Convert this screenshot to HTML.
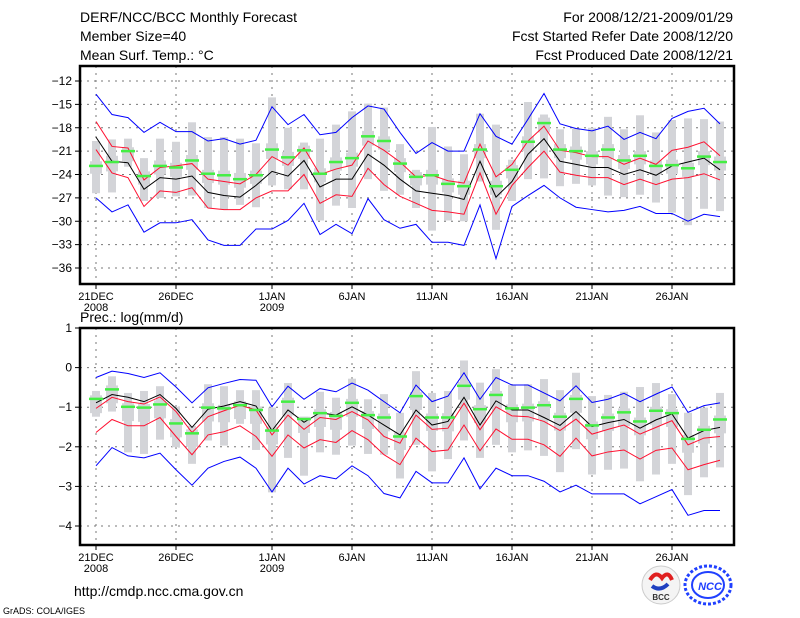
<!DOCTYPE html>
<html><head><meta charset="utf-8"><style>
body{margin:0;background:#fff;}
svg{display:block;font-family:"Liberation Sans",sans-serif;}
</style></head><body>
<svg id="chart" width="800" height="618" viewBox="0 0 800 618">
<text x="80" y="22" font-size="14">DERF/NCC/BCC Monthly Forecast</text>
<text x="80" y="41" font-size="14">Member Size=40</text>
<text x="80" y="60" font-size="14">Mean Surf. Temp.: °C</text>
<text x="733" y="22" font-size="14" text-anchor="end">For 2008/12/21-2009/01/29</text>
<text x="733" y="41" font-size="14" text-anchor="end">Fcst Started Refer Date 2008/12/20</text>
<text x="733" y="60" font-size="14" text-anchor="end">Fcst Produced Date 2008/12/21</text>
<text x="80" y="322" font-size="14">Prec.: log(mm/d)</text>
<text x="74" y="596" font-size="14">http://cmdp.ncc.cma.gov.cn</text>
<text x="3" y="614" font-size="9">GrADS: COLA/IGES</text>
<g>
<circle cx="661" cy="585" r="19" fill="#f4f4f4" stroke="#ccc"/>
<path d="M650 580 q6 -10 12 -2 q6 -8 10 2" stroke="#e02020" stroke-width="4" fill="none"/>
<path d="M652 586 q8 6 16 -2" stroke="#2040c0" stroke-width="4" fill="none"/>
<text x="661" y="600" font-size="8" font-weight="bold" text-anchor="middle" fill="#333">BCC</text>
</g>
<g>
<ellipse cx="708" cy="585" rx="23" ry="19" fill="none" stroke="#2040ff" stroke-width="3" stroke-dasharray="3 2"/>
<ellipse cx="708" cy="585" rx="16" ry="13" fill="none" stroke="#2040ff" stroke-width="2"/>
<text x="710" y="590" font-size="11" font-weight="bold" font-style="italic" text-anchor="middle" fill="#2040ff">NCC</text>
</g>
</svg>
<script>
// ---- Temperature panel data ----
const days = ['21DEC','26DEC','1JAN','6JAN','11JAN','16JAN','21JAN','26JAN'];
const dayIdx = [0,5,11,16,21,26,31,36];
const tTicks = [-12,-15,-18,-21,-24,-27,-30,-33,-36];
const pTicks = [1,0,-1,-2,-3,-4];
const tMax = [-13.7,-16.3,-16.7,-18.6,-17.3,-18.5,-18.5,-19.7,-19.4,-20.1,-19.6,-15.3,-17.6,-16.3,-18.9,-18.6,-16.7,-15.2,-15.6,-18.6,-21.3,-19.9,-21.0,-21.0,-16.2,-19.1,-20.1,-16.9,-13.6,-17.5,-18.1,-18.4,-17.8,-19.5,-18.6,-19.4,-16.8,-15.9,-15.5,-17.5];
const tUp = [-17.2,-20.4,-20.6,-24.7,-23.1,-22.9,-22.6,-24.6,-24.9,-25.2,-24.0,-21.7,-22.8,-20.6,-24.0,-23.3,-22.8,-19.7,-20.9,-22.4,-24.3,-24.1,-24.8,-25.1,-20.1,-24.3,-22.7,-19.7,-17.8,-20.9,-21.2,-21.7,-21.7,-22.7,-21.9,-22.7,-20.9,-20.5,-19.8,-21.6];
const tMean = [-19.2,-22.3,-22.5,-25.9,-24.4,-24.6,-24.2,-26.3,-26.7,-26.9,-25.4,-23.6,-24.2,-22.2,-25.6,-24.6,-24.6,-21.4,-22.8,-24.6,-26.1,-26.4,-26.7,-27.2,-22.3,-26.9,-24.9,-21.4,-19.4,-22.3,-22.7,-23.1,-23.1,-24.0,-23.4,-24.1,-22.9,-22.4,-21.9,-23.4];
const tLo = [-20.8,-23.8,-24.4,-28.1,-26.1,-26.3,-25.7,-28.3,-28.5,-28.5,-27.0,-26.1,-26.1,-24.0,-27.7,-26.6,-26.8,-23.2,-25.3,-26.8,-27.7,-28.6,-28.8,-29.1,-23.8,-29.1,-25.4,-23.1,-21.0,-23.7,-24.1,-24.4,-24.4,-25.3,-24.6,-25.3,-24.6,-24.4,-23.9,-24.7];
const tMin = [-27.0,-28.8,-27.9,-31.4,-30.2,-30.2,-29.8,-32.4,-33.1,-33.1,-31.0,-31.0,-29.9,-27.7,-31.7,-30.4,-31.6,-27.1,-29.8,-30.9,-30.4,-32.7,-32.7,-33.1,-27.9,-34.8,-28.1,-26.7,-25.4,-27.0,-28.2,-28.5,-28.8,-28.6,-28.1,-29.0,-29.0,-30.0,-29.1,-29.4];
const tObs = [-22.9,-22.4,-21.0,-24.2,-22.9,-23.1,-22.2,-23.9,-24.1,-24.6,-24.1,-20.8,-21.8,-20.9,-23.9,-22.4,-21.9,-19.1,-19.7,-22.6,-24.3,-24.1,-25.2,-25.5,-20.8,-25.5,-23.4,-19.8,-17.4,-20.8,-21.0,-21.6,-20.8,-22.2,-21.6,-22.9,-22.8,-23.2,-21.7,-22.4];
const tBarTop = [-19.7,-19.5,-19.4,-21.9,-19.4,-19.8,-17.3,-19.2,-19.2,-19.4,-20.0,-14.1,-18.0,-19.9,-19.4,-17.6,-15.9,-14.9,-15.4,-20.1,-23.4,-17.9,-20.4,-21.4,-16.2,-17.6,-22.1,-14.7,-16.3,-18.2,-18.1,-18.0,-16.6,-18.2,-16.4,-18.6,-17.0,-16.8,-16.9,-17.2];
const tBarBot = [-26.4,-26.3,-23.0,-27.4,-27.0,-26.8,-26.7,-28.3,-28.5,-27.9,-28.2,-25.4,-25.9,-25.9,-29.9,-28.0,-28.3,-24.6,-26.1,-26.6,-28.3,-31.2,-29.9,-30.0,-24.9,-31.1,-27.4,-24.6,-24.5,-25.5,-25.2,-25.4,-26.7,-26.9,-26.6,-27.6,-28.9,-30.5,-28.4,-28.7];
const tBoxTop = [-22.3,-21.6,-20.5,-23.6,-22.2,-22.5,-21.5,-23.4,-23.5,-23.8,-23.5,-20.0,-21.1,-20.3,-23.2,-21.8,-21.2,-18.4,-19.1,-21.9,-23.7,-23.4,-24.5,-24.8,-20.1,-24.8,-22.8,-19.1,-16.7,-20.1,-20.4,-21.0,-20.1,-21.5,-21.0,-22.2,-22.1,-22.5,-21.0,-21.7];
const tBoxBot = [-23.9,-23.6,-22.3,-25.3,-24.0,-24.3,-23.4,-25.1,-25.3,-25.7,-25.2,-22.0,-22.9,-22.0,-25.0,-23.5,-23.0,-20.3,-20.8,-23.7,-25.4,-25.3,-26.3,-26.6,-21.9,-26.6,-24.5,-21.0,-18.6,-21.9,-22.1,-22.7,-22.0,-23.3,-22.7,-24.0,-23.9,-24.3,-22.8,-23.5];
// ---- Precipitation panel data ----
const pMax = [-0.25,-0.09,-0.15,-0.25,-0.13,-0.49,-0.89,-0.51,-0.40,-0.30,-0.32,-0.99,-0.47,-0.80,-0.53,-0.61,-0.39,-0.57,-0.86,-1.14,-0.44,-0.86,-0.72,-0.13,-0.80,-0.25,-0.44,-0.44,-0.64,-0.84,-0.46,-0.88,-0.80,-0.65,-0.86,-0.67,-0.49,-1.13,-0.96,-0.89];
const pUp = [-1.03,-0.75,-0.86,-0.92,-0.74,-1.11,-1.64,-1.24,-1.09,-0.95,-1.07,-1.70,-1.20,-1.56,-1.26,-1.31,-1.11,-1.32,-1.74,-1.91,-1.20,-1.56,-1.53,-0.90,-1.57,-0.99,-1.22,-1.24,-1.36,-1.59,-1.30,-1.68,-1.56,-1.45,-1.68,-1.51,-1.34,-1.95,-1.78,-1.74];
const pMean = [-0.89,-0.68,-0.75,-0.86,-0.68,-1.03,-1.51,-1.05,-0.97,-0.86,-0.97,-1.59,-1.07,-1.38,-1.14,-1.20,-0.99,-1.20,-1.45,-1.70,-1.07,-1.45,-1.36,-0.75,-1.45,-0.84,-1.07,-1.07,-1.26,-1.46,-1.11,-1.49,-1.39,-1.31,-1.53,-1.32,-1.17,-1.78,-1.59,-1.51];
const pLo = [-1.64,-1.31,-1.47,-1.47,-1.26,-1.74,-2.20,-1.70,-1.62,-1.47,-1.74,-2.24,-1.70,-2.03,-1.82,-1.89,-1.59,-1.82,-2.20,-2.45,-1.78,-2.12,-2.08,-1.45,-2.10,-1.55,-1.81,-1.81,-1.95,-2.24,-1.78,-2.23,-2.13,-2.08,-2.31,-2.09,-2.03,-2.58,-2.45,-2.34];
const pMin = [-2.48,-2.02,-2.23,-2.28,-2.16,-2.58,-2.97,-2.54,-2.37,-2.26,-2.54,-3.14,-2.54,-2.94,-2.73,-2.81,-2.48,-2.73,-3.18,-3.29,-2.62,-2.91,-2.91,-2.28,-3.06,-2.54,-2.73,-2.73,-2.87,-3.14,-2.97,-3.19,-3.19,-3.19,-3.44,-3.26,-3.08,-3.73,-3.61,-3.61];
const pObs = [-0.79,-0.55,-0.99,-1.01,-0.93,-1.41,-1.66,-1.01,-1.03,-0.95,-1.07,-1.59,-0.86,-1.30,-1.15,-1.22,-0.89,-1.20,-1.26,-1.74,-0.72,-1.26,-1.26,-0.46,-1.05,-0.69,-1.03,-1.01,-0.95,-1.24,-0.79,-1.46,-1.26,-1.13,-1.36,-1.09,-1.15,-1.80,-1.57,-1.31];
const pBarTop = [-0.59,-0.22,-0.64,-0.59,-0.47,-0.99,-1.47,-0.42,-0.47,-0.57,-0.57,-1.01,-0.39,-1.24,-0.61,-0.76,-0.28,-0.80,-0.67,-1.14,-0.09,-0.64,-0.59,0.18,-0.38,-0.04,-0.44,-0.42,-0.29,-0.57,-0.13,-0.72,-0.69,-0.61,-0.49,-0.39,-0.67,-1.14,-1.01,-0.64];
const pBarBot = [-1.24,-1.11,-2.14,-2.18,-1.82,-2.01,-2.43,-1.84,-1.97,-1.42,-2.08,-3.15,-2.28,-2.73,-2.14,-2.20,-1.97,-2.18,-2.20,-2.80,-1.95,-2.62,-2.31,-1.84,-2.28,-1.95,-2.14,-2.09,-2.23,-2.64,-2.06,-2.70,-2.58,-2.55,-2.87,-2.70,-2.43,-3.22,-2.77,-2.52];
const pBoxTop = [-0.70,-0.45,-0.90,-0.92,-0.83,-1.30,-1.56,-0.90,-0.94,-0.85,-0.98,-1.49,-0.76,-1.20,-1.05,-1.12,-0.79,-1.10,-1.16,-1.64,-0.62,-1.16,-1.15,-0.36,-0.95,-0.59,-0.93,-0.91,-0.85,-1.14,-0.69,-1.36,-1.16,-1.03,-1.26,-0.99,-1.05,-1.70,-1.47,-1.21];
const pBoxBot = [-1.15,-0.90,-1.35,-1.37,-1.28,-1.76,-2.00,-1.36,-1.38,-1.30,-1.42,-1.94,-1.21,-1.65,-1.50,-1.57,-1.24,-1.55,-1.61,-2.08,-1.07,-1.60,-1.61,-0.81,-1.40,-1.04,-1.38,-1.36,-1.30,-1.59,-1.14,-1.81,-1.60,-1.48,-1.71,-1.44,-1.50,-2.15,-1.92,-1.66];

const NS='http://www.w3.org/2000/svg';
const svg=document.getElementById('chart');
const xOf=i=>96+16*i;
function mk(tag,attrs,parent){const e=document.createElementNS(NS,tag);for(const k in attrs)e.setAttribute(k,attrs[k]);(parent||svg).appendChild(e);return e;}

function panel(name,top,bot,v0,v1,y0,y1,ticks,S){
  const yOf=v=>y0+(v-v0)*(y1-y0)/(v1-v0);
  const g=mk('g',{});
  
  
  ticks.forEach(t=>{
    const l=mk('line',{x1:80,x2:734,y1:yOf(t),y2:yOf(t),stroke:'#777','stroke-dasharray':'2 5'},g);
    
    
    const tk=mk('line',{x1:75,x2:80,y1:yOf(t),y2:yOf(t),stroke:'#000'},g);
    
    
    const tx=mk('text',{x:72,y:yOf(t)+4,'font-size':12,'text-anchor':'end'},g);
    tx.textContent=String(t).replace('-','\u2212');
    
    
  });
  dayIdx.forEach((d,k)=>{
    const l=mk('line',{x1:xOf(d),x2:xOf(d),y1:top,y2:bot,stroke:'#777','stroke-dasharray':'2 5'},g);
    
    
    const tk=mk('line',{x1:xOf(d),x2:xOf(d),y1:bot,y2:bot+5,stroke:'#000'},g);
    
    
    const tx=mk('text',{x:xOf(d),y:bot+16,'font-size':11,'text-anchor':'middle'},g);
    tx.textContent=days[k];
    
    
    if(k===0||k===2){const yr=mk('text',{x:xOf(d),y:bot+27,'font-size':11,'text-anchor':'middle'},g);
      yr.textContent=k===0?'2008':'2009';
      
      }
  });
  for(let i=0;i<S.barTop.length;i++){
    const r=mk('rect',{x:xOf(i)-4,y:yOf(S.barTop[i]),width:8,height:Math.max(0,yOf(S.barBot[i])-yOf(S.barTop[i])),fill:'#d3d4d8'},g);
    
    
    const a=Math.min(S.boxTop[i],S.barTop[i]),b=Math.max(S.boxBot[i],S.barBot[i]);
    const bt=yOf(a),bb=yOf(b);
    const r2=mk('rect',{x:xOf(i)-6,y:bt,width:12,height:Math.max(0,bb-bt),fill:'#d3d4d8'},g);
    
    
  }
  const line=(arr,col,nm)=>{const p=mk('polyline',{points:arr.map((v,i)=>xOf(i)+','+yOf(v)).join(' '),fill:'none',stroke:col,'stroke-width':1},g);
    
    };
  line(S.max,'#0000ff','max-line');line(S.min,'#0000ff','min-line');
  line(S.up,'#ff1030','upper-line');line(S.lo,'#ff1030','lower-line');
  line(S.mean,'#000','ensemble-mean-line');
  S.obs.forEach((v,i)=>{const r=mk('rect',{x:xOf(i)-7,y:yOf(v)-1.25,width:14,height:2.5,fill:'#44ee44'},g);
    
    });
  const f=mk('rect',{x:80,y:top,width:654,height:bot-top,fill:'none',stroke:'#000','stroke-width':2.5},g);
  
  
}
panel('temperature',66,284,-12,-36,81,268,tTicks,{max:tMax,up:tUp,mean:tMean,lo:tLo,min:tMin,obs:tObs,barTop:tBarTop,barBot:tBarBot,boxTop:tBoxTop,boxBot:tBoxBot});
panel('precipitation',328,545,1,-4,328,526,pTicks,{max:pMax,up:pUp,mean:pMean,lo:pLo,min:pMin,obs:pObs,barTop:pBarTop,barBot:pBarBot,boxTop:pBoxTop,boxBot:pBoxBot});
</script>
</body></html>
